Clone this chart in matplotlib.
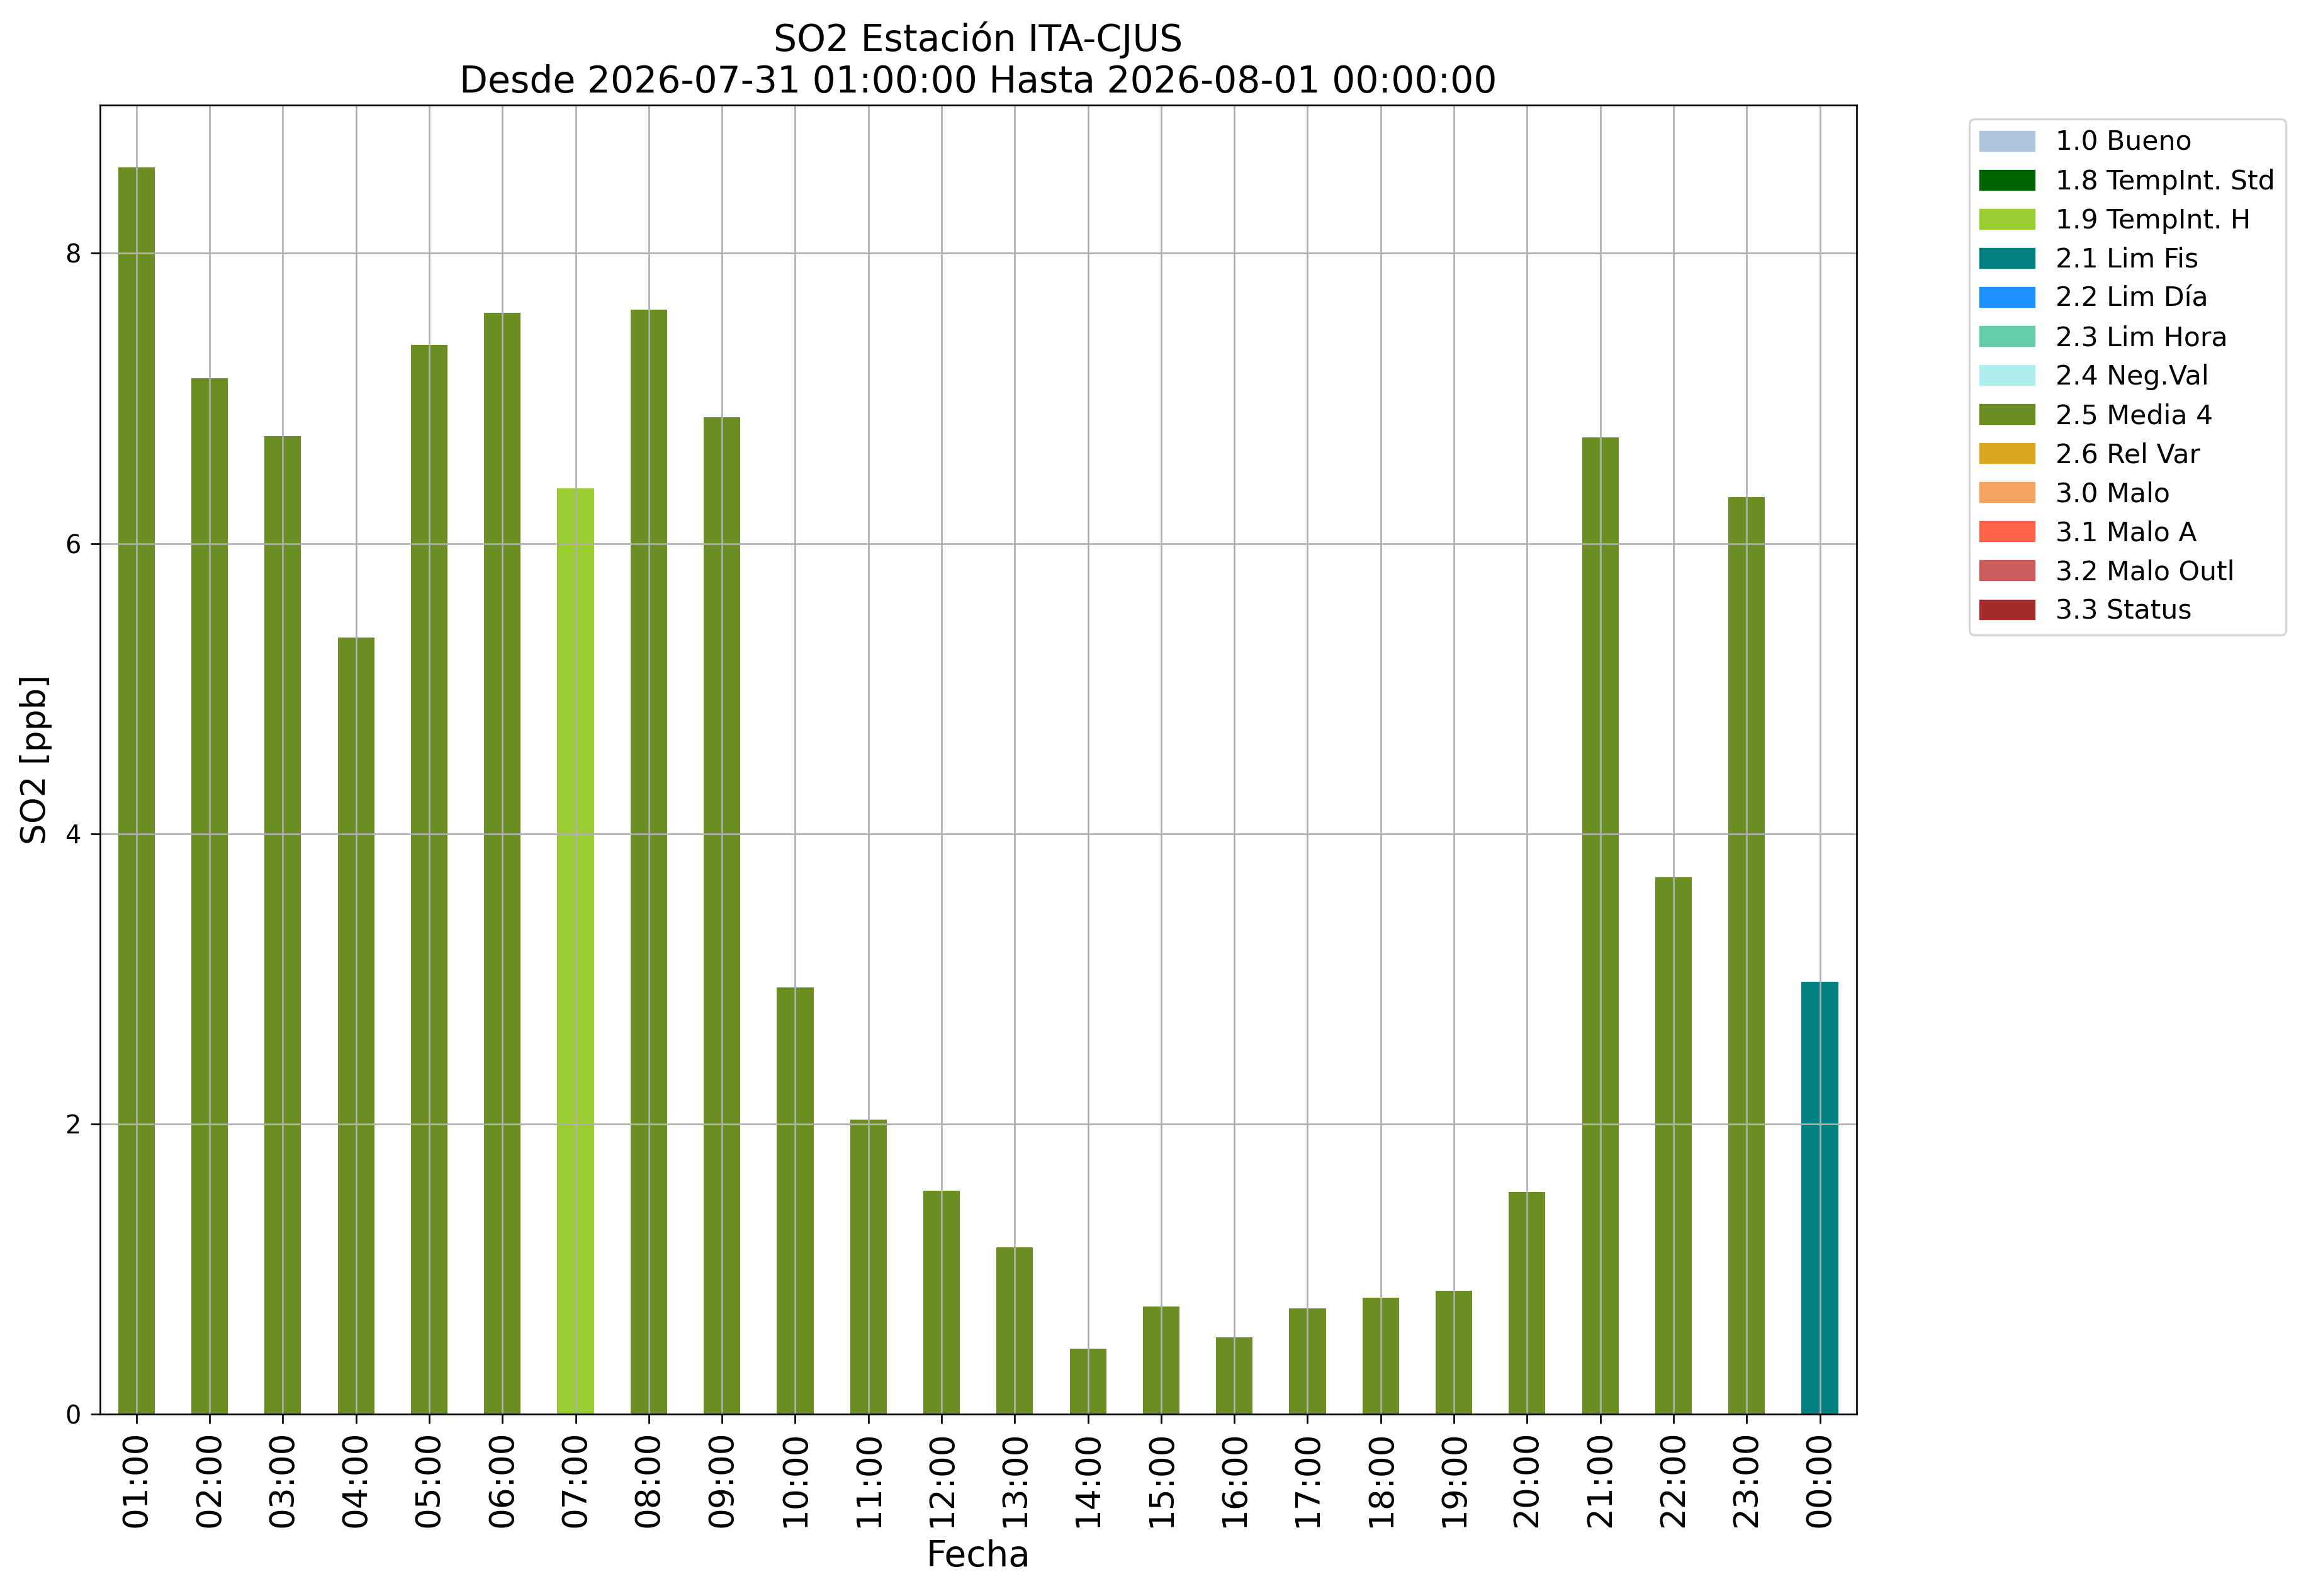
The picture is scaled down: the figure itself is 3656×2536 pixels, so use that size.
import numpy as np
import matplotlib
matplotlib.use("Agg")
import matplotlib.pyplot as plt
from matplotlib.patches import Patch

# horas y valores de SO2
horas = ["01:00", "02:00", "03:00", "04:00", "05:00", "06:00", "07:00", "08:00",
         "09:00", "10:00", "11:00", "12:00", "13:00", "14:00", "15:00", "16:00",
         "17:00", "18:00", "19:00", "20:00", "21:00", "22:00", "23:00", "00:00"]
so2 = [8.59, 7.14, 6.74, 5.35, 7.37, 7.59, 6.38, 7.61, 6.87, 2.94, 2.03, 1.54,
       1.15, 0.45, 0.74, 0.53, 0.73, 0.80, 0.85, 1.53, 6.73, 3.70, 6.32, 2.98]
flags = ["2.5"] * 6 + ["1.9"] + ["2.5"] * 16 + ["2.1"]

# codigos de calidad
codigos = ["1.0", "1.8", "1.9", "2.1", "2.2", "2.3", "2.4", "2.5", "2.6",
           "3.0", "3.1", "3.2", "3.3"]
nombres = ["Bueno", "TempInt. Std", "TempInt. H", "Lim Fis", "Lim Día", "Lim Hora",
           "Neg.Val", "Media 4", "Rel Var", "Malo", "Malo A", "Malo Outl", "Status"]
colores = ["lightsteelblue", "darkgreen", "yellowgreen", "teal", "dodgerblue",
           "mediumaquamarine", "paleturquoise", "olivedrab", "goldenrod",
           "sandybrown", "tomato", "indianred", "brown"]

color_de = dict(zip(codigos, colores))

fig = plt.figure(figsize=(3656 / 240, 2536 / 240), dpi=240)
ax = fig.add_axes([0.0434, 0.114, 0.8068 - 0.0434, 0.934 - 0.114])

x = np.arange(len(horas))
ax.bar(x, so2, width=0.5, color=[color_de[f] for f in flags])
ax.set_xlim(-0.5, len(horas) - 0.5)
ax.set_xticks(x)
ax.set_xticklabels(horas, rotation=90, fontsize=16)
ax.tick_params(axis="y", labelsize=12, length=4.5, pad=4.5)
ax.tick_params(axis="x", length=4.5)
ax.grid(True, color="#b0b0b0")

ax.set_xlabel("Fecha", fontsize=17, labelpad=5.5)
ax.set_ylabel("SO2 [ppb]", fontsize=16, labelpad=6)
ax.set_title("SO2 Estación ITA-CJUS\nDesde 2026-07-31 01:00:00 Hasta 2026-08-01 00:00:00",
             fontsize=17.5)

handles = [Patch(color=c, label=f"{cod} {nom}") for cod, nom, c in zip(codigos, nombres, colores)]
ax.legend(handles=handles, bbox_to_anchor=(1.0567, 1), loc="upper left",
          fontsize=12.8, labelspacing=0.47)

fig.savefig("out.png", dpi=240)
